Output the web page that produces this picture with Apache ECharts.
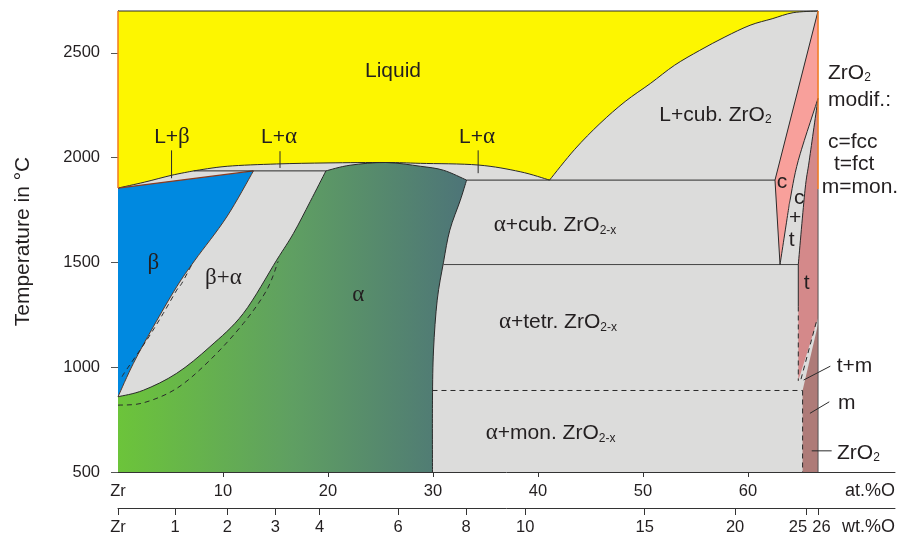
<!DOCTYPE html>
<html>
<head>
<meta charset="utf-8">
<title>Zr-O phase diagram</title>
<script src="https://cdn.jsdelivr.net/npm/echarts@6/dist/echarts.min.js"></script>
<style>
  html, body { margin: 0; padding: 0; background: #fff; }
  #main { width: 911px; height: 538px; }
</style>
</head>
<body>
<div id="main"></div>
<script>
// axes: temperature in °C, composition in at.% O (with a wt.% O scale below)
const tempTicks = [500, 1000, 1500, 2000, 2500];
const atTicks = [0, 10, 20, 30, 40, 50, 60];
const wtTicks = [0, 1, 2, 3, 4, 6, 8, 10, 15, 20, 25, 26];
const wtLabels = ['Zr', '1', '2', '3', '4', '6', '8', '10', '15', '20', '25', '26'];

// phase boundaries, [at.% O, °C]
const liquidusBeta = [[0, 1855], [2.5, 1883], [5.1, 1916], [7.2, 1937]];
const liquidusAlpha = [[7.2, 1937], [10.4, 1959], [15.1, 1970], [20, 1975], [25.5, 1977], [28.8, 1973], [34.3, 1965], [38.3, 1933], [41.1, 1893]];
const liquidusZrO2 = [[41.1, 1893], [43.5, 2040], [45.9, 2163], [48.3, 2268], [50.7, 2354], [53.0, 2441], [55.4, 2512], [57.8, 2576], [60.2, 2632], [62.3, 2663], [64.3, 2692], [66.67, 2700]];
const betaSolidus = [[0, 1855], [12.9, 1937]];
const peritectic = [[7.2, 1937], [19.8, 1937]];
const betaTransus = [[0, 859], [1.46, 1018], [3.36, 1193], [5.59, 1384], [7.33, 1511], [10.35, 1717], [12.9, 1937]];
const alphaTransus = [[0, 859], [2.41, 890], [5.59, 971], [8.76, 1098], [11.94, 1257], [15.11, 1511], [16.7, 1638], [18.3, 1790], [19.8, 1937]];
const alphaTop = [[19.8, 1937], [22.1, 1964], [25.5, 1977], [28.8, 1959], [31.0, 1940], [33.2, 1893]];
const alphaRight = [[33.2, 1893], [32.6, 1797], [31.6, 1654], [31.0, 1501], [30.4, 1320], [30.05, 1082], [29.95, 843], [29.95, 500]];
const betaDashed = [[0.4, 955], [0.67, 978], [2.73, 1129], [4.31, 1257], [5.59, 1368], [6.07, 1400], [7.0, 1487]];
const alphaDashed = [[0, 819], [2.41, 830], [5.59, 899], [8.76, 1034], [11.94, 1209], [14.16, 1368], [15.25, 1505]];
const eutectic = [[33.2, 1893], [62.57, 1893]];
const eutectoid = [[31.0, 1490], [64.79, 1490]];
const monotectoid = [[29.95, 889], [65.2, 889]];
const cLeft = [[66.67, 2700], [62.57, 1893], [63.05, 1490]];
const cRight = [[63.05, 1490], [63.84, 1748], [64.0, 1796], [64.79, 1987], [66.67, 2283]];
const tLeft = [[66.67, 2283], [65.84, 1988], [65.43, 1845], [64.79, 1490]];
const tLeftSolid = [[64.79, 1490], [64.79, 1290]];
const tLeftDashed = [[64.79, 1290], [64.79, 935]];
const tBottom = [[64.79, 935], [66.67, 1234]];
const mTop = [[65.2, 889], [66.67, 1205]];
const mLeftDashed = [[65.2, 889], [65.2, 500]];
const tmDashed = [[66.5, 1215], [64.95, 925]];

// labels, [at.% O, °C, text, align]
const labels = [
  [26.19, 2412, 'Liquid', 'center'],
  [5.14, 2098, 'L+{g|β}', 'center'],
  [15.33, 2098, 'L+{g|α}', 'center'],
  [34.19, 2098, 'L+{g|α}', 'center'],
  [56.9, 2205, 'L+cub. ZrO{s|2}', 'center'],
  [41.62, 1680, '{g|α}+cub. ZrO{s|2-x}', 'center'],
  [3.36, 1497, '{g|β}', 'center'],
  [10.03, 1424, '{g|β+α}', 'center'],
  [22.89, 1344, '{g|α}', 'center'],
  [41.9, 1217, '{g|α}+tetr. ZrO{s|2-x}', 'center'],
  [41.2, 684, '{g|α}+mon. ZrO{s|2-x}', 'center'],
  [63.24, 1884, 'c', 'center'],
  [64.89, 1805, 'c', 'center'],
  [64.48, 1710, '+', 'center'],
  [64.16, 1606, 't', 'center'],
  [65.59, 1400, 't', 'center'],
  [67.62, 2403, 'ZrO{s|2}', 'left'],
  [67.62, 2274, 'modif.:', 'left'],
  [67.62, 2075, 'c=fcc', 'left'],
  [68.19, 1969, 't=fct', 'left'],
  [67.02, 1860, 'm=mon.', 'left'],
  [68.45, 1005, 't+m', 'left'],
  [68.57, 830, 'm', 'left'],
  [68.48, 592, 'ZrO{s|2}', 'left']
];
const leaders = [
  [[5.1, 2035], [5.1, 1902]],
  [[15.43, 2031], [15.43, 1951]],
  [[34.3, 2035], [34.3, 1926]],
  [[65.3, 939], [67.84, 1005]],
  [[65.9, 780], [67.74, 835]],
  [[66.07, 601], [67.97, 601]]
];

const INK = '#231f20';
const FONT = 'Liberation Sans';
const X_MAX = 74;

// wt.% O -> at.% O, to place the lower scale
const wtToAt = w => {
  const o = w / 15.999, z = (100 - w) / 91.224;
  return 100 * o / (o + z);
};
const wtAt = wtTicks.map(wtToAt);

const rev = a => a.slice().reverse();
const S = pts => ({ pts: pts, smooth: true });
const P = pts => ({ pts: pts, smooth: false });

// each region is a closed outline made of boundary pieces
const regions = [
  { parts: [P([[0, 500], [0, 2700], [66.67, 2700], [66.67, 500]])], fill: '#dcdcdb' },
  { parts: [P([[0, 2700]]), S(rev(liquidusZrO2)), S(rev(liquidusAlpha)), S(rev(liquidusBeta))], fill: '#fdf600' },
  { parts: [S(betaTransus), P([[0, 1855]])], fill: '#0089e0' },
  { parts: [P([[0, 500]]), S(alphaTransus), S(alphaTop), S(alphaRight)], fill: 'gradient' },
  { parts: [P(cLeft), S(cRight)], fill: '#f8a09b' },
  { parts: [S(tLeft), P(tLeftSolid), P(tLeftDashed), P(tBottom)], fill: '#d4898a' },
  { parts: [P(mTop), P([[66.67, 500], [65.2, 500]])], fill: '#ae7b78' }
];

const dark = '#2a2a2a';
const dash = [5, 4];
const lines = [
  { part: P([[0, 2700], [66.67, 2700]]), color: dark, width: 1.2 },
  { part: S(liquidusBeta), color: dark, width: 1 },
  { part: S(liquidusAlpha), color: dark, width: 1 },
  { part: S(liquidusZrO2), color: dark, width: 1 },
  { part: P(betaSolidus), color: '#8a3a1e', width: 1.2 },
  { part: P(peritectic), color: dark, width: 1 },
  { part: S(betaTransus), color: '#5a3a2a', width: 1 },
  { part: S(alphaTransus), color: dark, width: 1 },
  { part: S(alphaTop), color: dark, width: 1 },
  { part: S(alphaRight), color: dark, width: 1 },
  { part: P(eutectic), color: dark, width: 1 },
  { part: P(eutectoid), color: '#444', width: 1 },
  { part: P(cLeft), color: dark, width: 1 },
  { part: S(cRight), color: dark, width: 1 },
  { part: S(tLeft), color: dark, width: 1 },
  { part: P(tLeftSolid), color: dark, width: 1 },
  { part: P([[66.67, 1850], [66.67, 500]]), color: '#555', width: 1 },
  { part: P([[0, 2700], [0, 1855]]), color: '#f07a1e', width: 1.5 },
  { part: P([[66.67, 2700], [66.67, 1850]]), color: '#f07a1e', width: 1.5 },
  { part: S(betaDashed), color: dark, width: 1, dash: dash },
  { part: S(alphaDashed), color: dark, width: 1, dash: dash },
  { part: P(monotectoid), color: dark, width: 1, dash: dash },
  { part: P(tLeftDashed), color: dark, width: 1, dash: dash },
  { part: P(mLeftDashed), color: dark, width: 1, dash: dash },
  { part: P(tmDashed), color: dark, width: 1, dash: dash }
].concat(leaders.map(p => ({ part: P(p), color: dark, width: 1 })));

// SVG path through the boundary points; curved pieces as Catmull-Rom splines
function pathFor(parts, api, close) {
  let d = '';
  parts.forEach((part, k) => {
    const pts = part.pts.map(p => api.coord(p));
    d += (k === 0 ? 'M' : 'L') + pts[0][0] + ' ' + pts[0][1] + ' ';
    if (part.smooth && pts.length > 2) {
      for (let i = 0; i < pts.length - 1; i++) {
        const p0 = pts[Math.max(i - 1, 0)], p1 = pts[i], p2 = pts[i + 1], p3 = pts[Math.min(i + 2, pts.length - 1)];
        const c1 = [p1[0] + (p2[0] - p0[0]) / 6, p1[1] + (p2[1] - p0[1]) / 6];
        const c2 = [p2[0] - (p3[0] - p1[0]) / 6, p2[1] - (p3[1] - p1[1]) / 6];
        d += 'C' + c1[0] + ' ' + c1[1] + ' ' + c2[0] + ' ' + c2[1] + ' ' + p2[0] + ' ' + p2[1] + ' ';
      }
    } else {
      for (let i = 1; i < pts.length; i++) d += 'L' + pts[i][0] + ' ' + pts[i][1] + ' ';
    }
  });
  return close ? d + 'Z' : d;
}

const chart = echarts.init(document.getElementById('main'));

const option = {
  animation: false,
  grid: { left: 118, right: 16, top: 11, bottom: 66 },
  xAxis: [
    {
      type: 'value', min: 0, max: X_MAX, position: 'bottom',
      name: 'at.%O', nameLocation: 'end', nameGap: 0,
      nameTextStyle: { fontFamily: FONT, fontSize: 18, color: INK, align: 'right', verticalAlign: 'top', padding: [10, 0, 0, 0] },
      axisLine: { onZero: false, lineStyle: { color: '#333', width: 1 } },
      axisTick: { length: 5, customValues: atTicks.filter(v => v > 0), lineStyle: { color: '#333' } },
      axisLabel: {
        customValues: atTicks, margin: 11, fontFamily: FONT, fontSize: 16.5, color: INK,
        formatter: v => (v === 0 ? 'Zr' : String(v))
      },
      splitLine: { show: false }
    },
    {
      type: 'value', min: 0, max: X_MAX, position: 'bottom', offset: 36,
      name: 'wt.%O', nameLocation: 'end', nameGap: 0,
      nameTextStyle: { fontFamily: FONT, fontSize: 18, color: INK, align: 'right', verticalAlign: 'top', padding: [10, 0, 0, 0] },
      axisLine: { onZero: false, lineStyle: { color: '#333', width: 1 } },
      axisTick: { length: 7, customValues: wtAt, lineStyle: { color: '#333' } },
      axisLabel: {
        customValues: wtAt, margin: 11, fontFamily: FONT, fontSize: 16.5, color: INK,
        formatter: v => {
          let best = 0;
          wtAt.forEach((a, i) => { if (Math.abs(a - v) < Math.abs(wtAt[best] - v)) best = i; });
          const t = wtLabels[best];
          if (t === '25') return '{l|25}';
          if (t === '26') return '{r|26}';
          return t;
        },
        rich: {
          l: { fontFamily: FONT, fontSize: 16.5, color: INK, padding: [0, 16, 0, 0] },
          r: { fontFamily: FONT, fontSize: 16.5, color: INK, padding: [0, 0, 0, 6] }
        }
      },
      splitLine: { show: false }
    }
  ],
  yAxis: {
    type: 'value', min: 500, max: 2700, interval: 500,
    name: 'Temperature in °C', nameLocation: 'middle', nameGap: 84,
    nameTextStyle: { fontFamily: FONT, fontSize: 21, color: INK },
    axisLine: { show: true, onZero: false, lineStyle: { color: '#333', width: 1 } },
    axisTick: { show: true, length: 7, customValues: tempTicks, lineStyle: { color: '#555' } },
    axisLabel: {
      customValues: tempTicks, margin: 18, fontFamily: FONT, fontSize: 16.5, color: INK,
      formatter: v => String(v)
    },
    splitLine: { show: false }
  },
  series: [
    {
      type: 'custom', name: 'regions', coordinateSystem: 'cartesian2d', silent: true,
      data: regions.map(r => r.parts[0].pts[0]),
      renderItem: (params, api) => {
        const r = regions[params.dataIndex];
        let fill = r.fill;
        if (fill === 'gradient') {
          const x0 = api.coord([0, 500])[0];
          const x1 = api.coord([33.2, 500])[0];
          fill = new echarts.graphic.LinearGradient(x0, 0, x1, 0, [
            { offset: 0, color: '#6cc43a' },
            { offset: 0.5, color: '#5f9f62' },
            { offset: 1, color: '#4d7478' }
          ], true);
        }
        return {
          type: 'path',
          shape: { pathData: pathFor(r.parts, api, true) },
          style: { fill: fill, stroke: null }
        };
      }
    },
    {
      type: 'custom', name: 'boundaries', coordinateSystem: 'cartesian2d', silent: true,
      data: lines.map(l => l.part.pts[0]),
      renderItem: (params, api) => {
        const l = lines[params.dataIndex];
        return {
          type: 'path',
          shape: { pathData: pathFor([l.part], api, false) },
          style: { fill: null, stroke: l.color, lineWidth: l.width, lineDash: l.dash || null }
        };
      }
    },
    {
      type: 'custom', name: 'labels', coordinateSystem: 'cartesian2d', silent: true,
      data: labels.map(l => [l[0], l[1]]),
      renderItem: (params, api) => {
        const l = labels[params.dataIndex];
        const c = api.coord([l[0], l[1]]);
        return {
          type: 'text', x: c[0], y: c[1],
          style: {
            text: l[2], fill: INK, fontFamily: FONT, fontSize: 21,
            align: l[3], verticalAlign: 'middle',
            rich: {
              g: { fontFamily: 'Liberation Serif', fontSize: 23, fill: INK },
              s: { fontFamily: FONT, fontSize: 12, fill: INK, verticalAlign: 'bottom', lineHeight: 12 }
            }
          }
        };
      }
    }
  ]
};

chart.setOption(option);
</script>
</body>
</html>
